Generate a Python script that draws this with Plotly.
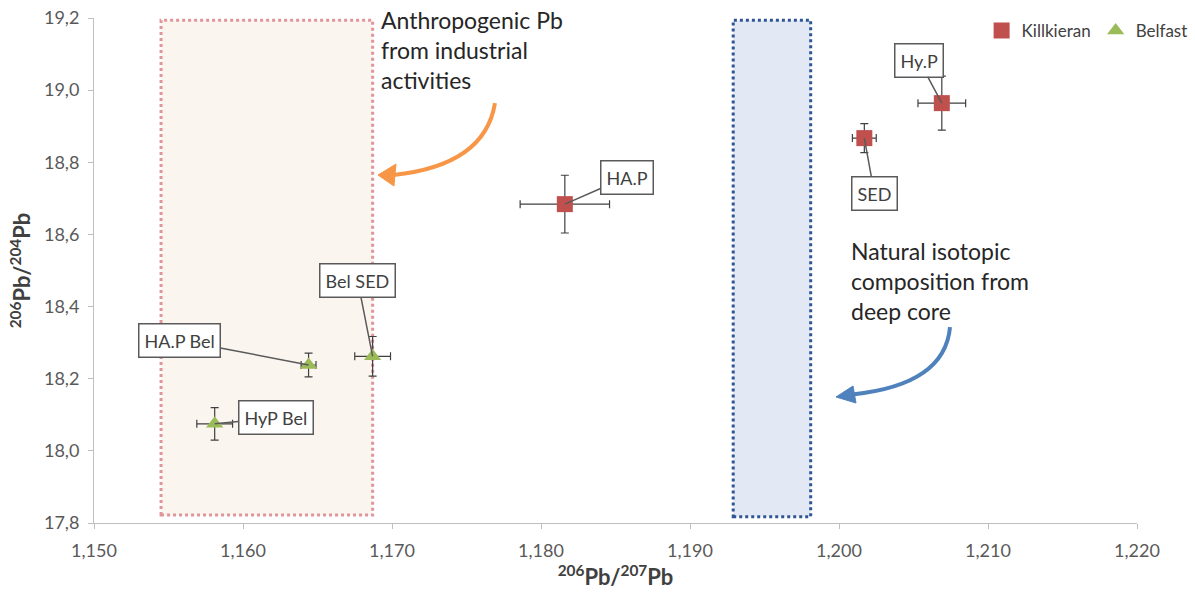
import plotly.graph_objects as go

# Killkieran data
kil_labels = ["HA.P", "SED", "Hy.P"]
kil_x = [1.1816, 1.2017, 1.2069]
kil_y = [18.684, 18.867, 18.964]
kil_xerr = [0.0030, 0.0008, 0.0016]
kil_yerr = [0.080, 0.040, 0.075]

# Belfast data
bel_labels = ["HyP Bel", "HA.P Bel", "Bel SED"]
bel_x = [1.1581, 1.1644, 1.1687]
bel_y = [18.075, 18.238, 18.262]
bel_xerr = [0.0012, 0.0005, 0.0012]
bel_yerr = [0.045, 0.033, 0.055]

x_ticks = [1.150, 1.160, 1.170, 1.180, 1.190, 1.200, 1.210, 1.220]
y_ticks = [17.8, 18.0, 18.2, 18.4, 18.6, 18.8, 19.0, 19.2]

FONT = "Lato"
EB = dict(type="data", color="#404040", thickness=1.2, width=4)

fig = go.Figure()
fig.add_trace(go.Scatter(
    x=kil_x, y=kil_y, mode="markers", name="Killkieran",
    marker=dict(symbol="square", size=16, color="#C0504D"),
    error_x=dict(array=kil_xerr, **EB), error_y=dict(array=kil_yerr, **EB)))
fig.add_trace(go.Scatter(
    x=bel_x, y=bel_y, mode="markers", name="Belfast",
    marker=dict(symbol="triangle-up", size=15, color="#9BBB59"),
    error_x=dict(array=bel_xerr, **EB), error_y=dict(array=bel_yerr, **EB)))

# shaded zones
fig.add_shape(type="rect", xref="x", yref="y", x0=1.1545, x1=1.1687, y0=17.822, y1=19.194,
              fillcolor="#FBF5F0", line=dict(color="#E0959A", width=3, dash="dot"), layer="below")
fig.add_shape(type="rect", xref="x", yref="y", x0=1.1929, x1=1.1981, y0=17.817, y1=19.194,
              fillcolor="#E3E9F4", line=dict(color="#2F5597", width=3, dash="dot"), layer="below")

# curved arrows (body + head)
fig.add_shape(type="path", xref="x", yref="y",
              path="M 1.17691,18.964 Q 1.17624,18.792 1.17010,18.7647",
              line=dict(color="#F79646", width=4))
fig.add_shape(type="path", xref="x", yref="y",
              path="M 1.16906,18.7647 L 1.17027,18.7952 L 1.17013,18.7342 Z",
              fillcolor="#F79646", line=dict(color="#F79646", width=1))
fig.add_shape(type="path", xref="x", yref="y",
              path="M 1.20745,18.343 Q 1.20711,18.183 1.20090,18.1565",
              line=dict(color="#4F81BD", width=4))
fig.add_shape(type="path", xref="x", yref="y",
              path="M 1.19980,18.1493 L 1.20094,18.1798 L 1.20114,18.1327 Z",
              fillcolor="#4F81BD", line=dict(color="#4F81BD", width=1))

# zone texts
fig.add_annotation(x=0.2733, y=1.028, xref="paper", yref="paper", xanchor="left", yanchor="top",
                   showarrow=False, align="left",
                   text="Anthropogenic Pb<br>from industrial<br>activities",
                   font=dict(family=FONT, size=23, color="#262626"))
fig.add_annotation(x=0.724, y=0.570, xref="paper", yref="paper", xanchor="left", yanchor="top",
                   showarrow=False, align="left",
                   text="Natural isotopic<br>composition from<br>deep core",
                   font=dict(family=FONT, size=23, color="#262626"))

# callout labels
kil_off = [(62, -27), (10, 55), (-23, -43)]
bel_off = [(61, -6), (-129, -25), (-15, -76)]
for labels, xs, ys, offs in [(kil_labels, kil_x, kil_y, kil_off), (bel_labels, bel_x, bel_y, bel_off)]:
    for lab, xv, yv, (ax, ay) in zip(labels, xs, ys, offs):
        fig.add_annotation(x=xv, y=yv, ax=ax, ay=ay, xref="x", yref="y", text=lab,
                           showarrow=True, arrowhead=0, arrowwidth=1.5, arrowcolor="#5a5a5a",
                           bgcolor="white", bordercolor="#5a5a5a", borderwidth=1.5, borderpad=5,
                           font=dict(family=FONT, size=18, color="#404040"))

fig.update_layout(
    width=1195, height=593,
    margin=dict(l=94, r=58, t=18, b=70, autoexpand=False),
    paper_bgcolor="white", plot_bgcolor="white",
    separators=",.",
    font=dict(family=FONT, size=18, color="#595959"),
    showlegend=True,
    legend=dict(orientation="h", xref="container", yref="container",
                x=0.998, xanchor="right", y=0.978, yanchor="top",
                font=dict(family=FONT, size=17, color="#404040"), bgcolor="rgba(0,0,0,0)",
                itemwidth=30),
    xaxis=dict(range=[1.150, 1.220], tickvals=x_ticks, tickformat=".3f", automargin=False,
               showgrid=False, zeroline=False, showline=True, linecolor="#BFBFBF", linewidth=1,
               ticks="outside", ticklen=5, tickcolor="#BFBFBF", ticklabelstandoff=6,
               tickfont=dict(family=FONT, size=18, color="#595959"),
               title=dict(text="<b><sup>206</sup>Pb/<sup>207</sup>Pb</b>", standoff=7,
                          font=dict(family=FONT, size=22, color="#404040"))),
    yaxis=dict(range=[17.8, 19.2], tickvals=y_ticks, tickformat=".1f", automargin=False,
               showgrid=False, zeroline=False, showline=True, linecolor="#BFBFBF", linewidth=1,
               ticks="outside", ticklen=5, tickcolor="#BFBFBF", ticklabelstandoff=5,
               tickfont=dict(family=FONT, size=18, color="#595959"),
               title=dict(text="<b><sup>206</sup>Pb/<sup>204</sup>Pb</b>", standoff=7,
                          font=dict(family=FONT, size=22, color="#404040"))),
)

fig.write_html("out.html", config={"displayModeBar": False},
               post_script="document.body.style.margin='0';")
